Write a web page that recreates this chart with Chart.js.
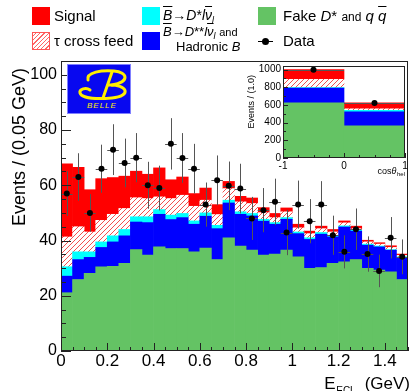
<!DOCTYPE html>
<html>
<head>
<meta charset="utf-8">
<title>E_ECL fit</title>
<script src="https://cdn.jsdelivr.net/npm/chart.js@4.4.1/dist/chart.umd.min.js"></script>
<style>
  html, body { margin: 0; padding: 0; background: #fff; }
  #page { position: relative; width: 412px; height: 391px; overflow: hidden; font-family: 'Liberation Sans', Arial, sans-serif; color: #000; }
  canvas { position: absolute; }
  #main { left: 0; top: 0; }
  #inset { left: 225px; top: 58px; }
  .box { position: absolute; width: 18px; height: 18px; }
  .hatch { box-sizing: border-box; border: 1px solid #f55; background: repeating-linear-gradient(-45deg, #fff 0 2px, #f66 2px 3px); }
  .lbl { position: absolute; white-space: nowrap; line-height: 18px; }
  .ob { text-decoration: overline; }
  .sub { font-size: 9px; vertical-align: -3px; }
  .logo { position: absolute; left: 67px; top: 64px; width: 62px; height: 48px; background: #0808f0; border: 1px solid #8080ff; overflow: hidden; }
</style>
</head>
<body>
<div id="page">
  <canvas id="main" width="412" height="391"></canvas>
  <canvas id="inset" width="187" height="122"></canvas>

  <div class="box" style="left:32px;top:7px;background:#ff0000"></div>
  <div class="lbl" style="left:54px;top:7px;font-size:15px">Signal</div>
  <div class="box" style="left:142px;top:7px;background:#00ffff"></div>
  <div class="lbl" style="left:163px;top:6px;font-size:14px"><i class="ob">B</i>→<i>D</i>*<i>l</i><i class="ob">ν</i><span class="sub"><i>l</i></span></div>
  <div class="box" style="left:258px;top:7px;background:#64c364"></div>
  <div class="lbl" style="left:283px;top:7px;font-size:15px">Fake <i>D</i>* <span style="font-size:12px">and</span> <i>q</i> <i class="ob">q</i></div>

  <div class="box hatch" style="left:32px;top:32px"></div>
  <div class="lbl" style="left:54px;top:32px;font-size:15px">τ cross feed</div>
  <div class="box" style="left:142px;top:32px;background:#0000ff"></div>
  <div class="lbl" style="left:163px;top:24px;font-size:13px;line-height:15px"><i class="ob">B</i>→<i>D</i>**<i>l</i><i class="ob">ν</i><span class="sub"><i>l</i></span> <span style="font-size:11px">and</span></div>
  <div class="lbl" style="left:176px;top:39px;font-size:13px;line-height:15px">Hadronic <i>B</i></div>
  <div style="position:absolute;left:258px;top:41px;width:15px;height:1px;background:#000"></div>
  <div style="position:absolute;left:262px;top:38px;width:7px;height:7px;border-radius:50%;background:#000"></div>
  <div class="lbl" style="left:283px;top:32px;font-size:15px">Data</div>

  <div class="logo">
    <svg width="62" height="48" style="position:absolute;left:0;top:0">
      <g fill="none" stroke="#ffee00" stroke-width="3" stroke-linecap="round">
        <path d="M20 15 C18 7, 34 5, 46 6 C60 7, 62 17, 44 20"/>
        <path d="M44 7 L35 33"/>
        <path d="M40 20 C60 19, 64 31, 44 33 C32 34, 14 34, 12 28 C11 24, 18 22, 22 25"/>
      </g>
    </svg>
    <div style="position:absolute;left:19px;top:36px;font:italic 8px 'Liberation Sans',sans-serif;color:#ffee00;letter-spacing:1px">BELLE</div>
  </div>
</div>

<script>
// main plot: E_ECL, 30 bins of 0.05 GeV
var binCenters = [0.025, 0.075, 0.125, 0.175, 0.225, 0.275, 0.325, 0.375, 0.425, 0.475,
  0.525, 0.575, 0.625, 0.675, 0.725, 0.775, 0.825, 0.875, 0.925, 0.975,
  1.025, 1.075, 1.125, 1.175, 1.225, 1.275, 1.325, 1.375, 1.425, 1.475]
var fakeDstar = [21.1, 25.9, 28.1, 30.5, 30.7, 31.7, 36.7, 34.7, 37.7, 37.1,
  37.1, 35.9, 37.3, 33.1, 41.0, 38.0, 36.5, 34.7, 35.1, 36.5,
  34.1, 29.9, 30.2, 31.7, 32.3, 33.1, 29.9, 29.3, 28.7, 25.9]
var hadronicB = [6.0, 7.2, 5.8, 7.0, 8.8, 10.0, 10.0, 11.8, 11.8, 10.5,
  11.2, 10.0, 11.5, 11.2, 12.6, 11.5, 12.4, 12.3, 10.8, 11.2,
  8.4, 10.5, 12.1, 9.6, 12.6, 10.3, 8.4, 8.4, 7.8, 8.0]
var dstarLnu = [3.4, 2.8, 2.0, 2.0, 2.2, 2.3, 1.9, 2.1, 1.7, 1.6,
  1.5, 1.2, 1.2, 1.2, 1.0, 0.9, 0.9, 0.7, 0.6, 0.6,
  0.6, 0.6, 0.6, 0.6, 0.4, 0.3, 0.4, 0.3, 0.2, 0.2]
var tauFeed = [10.8, 9.1, 7.2, 7.8, 7.8, 7.6, 6.9, 6.6, 4.6, 6.0,
  6.6, 5.3, 4.6, 3.9, 4.2, 3.6, 3.6, 2.4, 1.8, 2.1,
  1.5, 1.5, 1.4, 1.2, 1.1, 0.6, 0.8, 0.7, 0.8, 0.5]
var signal = [26.5, 21.5, 15.3, 15.1, 13.3, 11.7, 9.6, 8.8, 10.5, 6.8,
  6.6, 4.6, 4.4, 3.6, 2.6, 2.0, 2.0, 1.8, 1.5, 1.4,
  1.3, 0.9, 0.9, 0.9, 0.7, 0.9, 0.6, 0.5, 0.6, 0.5]
var dataCounts = [57.0, 63.0, 50.0, 66.0, 72.9, 68.1, 70.0, 60.0, 59.0, 75.0,
  69.9, 66.0, 53.0, 61.8, 59.8, 58.8, 48.0, 51.0, 54.0, 42.9,
  53.0, 47.0, 53.0, 41.9, 35.9, 44.1, 35.1, 29.0, 41.0, 34.1]
var dataErrors = [8.1, 8.6, 6.8, 8.7, 9.2, 8.8, 8.9, 8.5, 8.1, 9.3,
  9.0, 9.0, 8.0, 9.0, 8.8, 9.0, 7.8, 8.0, 8.4, 8.2,
  8.7, 8.0, 8.5, 7.1, 6.0, 7.5, 6.4, 5.9, 7.5, 6.3]
var xTicks = [0, 0.2, 0.4, 0.6, 0.8, 1, 1.2, 1.4]
var yTicks = [0, 20, 40, 60, 80, 100]

// inset: cos(theta_hel), 2 bins
var cosCenters = [-0.5, 0.5]
var cosFake = [625, 365]
var cosHadronic = [165, 158]
var cosDstar = [5, 16]
var cosTau = [95, 18]
var cosSignal = [110, 68]
var cosData = [998, 622]
var cosErrors = [32, 25]
var cosXTicks = [-1, 0, 1]
var cosYTicks = [0, 200, 400, 600, 800, 1000]

var FONT = '"Liberation Sans", Arial, sans-serif'
var GREEN = '#64c364'

function hatchPattern () {
  var c = document.createElement('canvas')
  c.width = 5
  c.height = 5
  var g = c.getContext('2d')
  g.fillStyle = '#fff'
  g.fillRect(0, 0, 5, 5)
  g.strokeStyle = '#f25050'
  g.lineWidth = 1
  g.beginPath()
  g.moveTo(-1, 6); g.lineTo(6, -1)
  g.moveTo(-1, 1); g.lineTo(1, -1)
  g.moveTo(4, 6); g.lineTo(6, 4)
  g.stroke()
  return g.createPattern(c, 'repeat')
}

function points (xs, ys) {
  return xs.map(function (x, i) { return { x: x, y: ys[i] } })
}

function barSet (label, centers, values, color) {
  return {
    label: label,
    data: points(centers, values),
    backgroundColor: color,
    borderWidth: 0,
    barPercentage: 1,
    categoryPercentage: 1,
    stack: 'mc'
  }
}

function dataSet (centers, values, radius) {
  return {
    type: 'line',
    label: 'Data',
    data: points(centers, values),
    yAxisID: 'yd',
    showLine: false,
    pointRadius: radius,
    pointBackgroundColor: '#000',
    pointBorderWidth: 0,
    order: -1
  }
}

// error bars drawn under the data markers
function errorBars (errors, halfWidth) {
  return {
    id: 'errorBars',
    beforeDatasetDraw: function (chart, args) {
      if (args.meta.type !== 'line') return
      var ctx = chart.ctx
      var xs = chart.scales.x
      var ys = chart.scales.yd
      ctx.save()
      ctx.strokeStyle = '#555'
      ctx.lineWidth = 1
      ctx.beginPath()
      args.meta._dataset.data.forEach(function (p, i) {
        var px = Math.round(xs.getPixelForValue(p.x)) + 0.5
        var py = Math.round(ys.getPixelForValue(p.y)) + 0.5
        ctx.moveTo(px, ys.getPixelForValue(p.y + errors[i]))
        ctx.lineTo(px, ys.getPixelForValue(p.y - errors[i]))
        ctx.moveTo(xs.getPixelForValue(p.x - halfWidth), py)
        ctx.lineTo(xs.getPixelForValue(p.x + halfWidth), py)
      })
      ctx.stroke()
      ctx.restore()
    }
  }
}

// ROOT-like frame with inward ticks, plus hand-placed axis titles
function frameTicks (o) {
  return {
    id: 'frameTicks',
    afterDatasetsDraw: function (chart) {
      var ctx = chart.ctx
      var a = chart.chartArea
      var xs = chart.scales.x
      var ys = chart.scales.y
      ctx.save()
      ctx.strokeStyle = '#222'
      ctx.lineWidth = 1
      ctx.strokeRect(a.left + 0.5, a.top + 0.5, a.right - a.left - 1, a.bottom - a.top - 1)
      ctx.beginPath()
      var n = Math.floor((xs.max - xs.min) / o.xMinor + 1e-6)
      for (var i = 0; i <= n; i++) {
        var px = Math.round(xs.getPixelForValue(xs.min + i * o.xMinor)) + 0.5
        ctx.moveTo(px, a.bottom)
        ctx.lineTo(px, a.bottom - (i % o.xEvery === 0 ? o.xLong : o.xShort))
      }
      var m = Math.floor((ys.max - ys.min) / o.yMinor + 1e-6)
      for (var j = 0; j <= m; j++) {
        var py = Math.round(ys.getPixelForValue(ys.min + j * o.yMinor)) + 0.5
        ctx.moveTo(a.left, py)
        ctx.lineTo(a.left + (j % o.yEvery === 0 ? o.yLong : o.yShort), py)
      }
      ctx.stroke()
      ctx.restore()
    },
    afterDraw: function (chart) {
      o.titles(chart.ctx)
    }
  }
}

function drawMainTitles (ctx) {
  ctx.save()
  ctx.fillStyle = '#000'
  ctx.font = '18px ' + FONT
  ctx.translate(20, 68)
  ctx.rotate(-Math.PI / 2)
  ctx.textAlign = 'right'
  ctx.textBaseline = 'middle'
  ctx.fillText('Events / (0.05 GeV)', 0, 0)
  ctx.restore()

  ctx.save()
  ctx.fillStyle = '#000'
  ctx.textAlign = 'left'
  ctx.textBaseline = 'alphabetic'
  ctx.font = '17px ' + FONT
  var gev = '(GeV)'
  var x3 = 410 - ctx.measureText(gev).width
  ctx.fillText(gev, x3, 389)
  ctx.font = '10px ' + FONT
  var x2 = x3 - 9 - ctx.measureText('ECL').width
  ctx.fillText('ECL', x2, 394)
  ctx.font = '17px ' + FONT
  ctx.fillText('E', x2 - ctx.measureText('E').width - 0.5, 389)
  ctx.restore()
}

function drawInsetTitles (ctx) {
  ctx.save()
  ctx.fillStyle = '#000'
  ctx.font = '9px ' + FONT
  ctx.translate(27, 17)
  ctx.rotate(-Math.PI / 2)
  ctx.textAlign = 'right'
  ctx.textBaseline = 'middle'
  ctx.fillText('Events / (1.0)', 0, 0)
  ctx.restore()

  ctx.save()
  ctx.fillStyle = '#000'
  ctx.textBaseline = 'alphabetic'
  ctx.font = '6px ' + FONT
  var x3 = 180 - ctx.measureText('hel').width
  ctx.fillText('hel', x3, 118)
  ctx.font = 'italic 9px ' + FONT
  var x2 = x3 - ctx.measureText('θ').width - 0.5
  ctx.fillText('θ', x2, 116)
  ctx.font = '9px ' + FONT
  ctx.fillText('cos', x2 - ctx.measureText('cos').width, 116)
  ctx.restore()
}

function fixedTicks (list) {
  return function (scale) {
    scale.ticks = list.map(function (v) { return { value: v } })
  }
}

function axes (xMin, xMax, xList, yMax, yList, yWidth, xHeight, yFont, xFont, xPad, yPad) {
  return {
    x: {
      type: 'linear', min: xMin, max: xMax, offset: false, stacked: true,
      grid: { display: false, drawTicks: false, offset: false },
      border: { display: false },
      afterBuildTicks: fixedTicks(xList),
      afterFit: function (s) { s.height = xHeight },
      ticks: { padding: xPad, color: '#000', maxRotation: 0, autoSkip: false, font: { family: FONT, size: xFont }, callback: function (v) { return String(v) } }
    },
    y: {
      min: 0, max: yMax, stacked: true,
      grid: { display: false, drawTicks: false },
      border: { display: false },
      afterBuildTicks: fixedTicks(yList),
      afterFit: function (s) { s.width = yWidth },
      ticks: { padding: yPad, color: '#000', font: { family: FONT, size: yFont }, callback: function (v) { return String(v) } }
    },
    yd: { display: false, min: 0, max: yMax }
  }
}

var hatch = hatchPattern()

new Chart(document.getElementById('main'), {
  type: 'bar',
  data: {
    datasets: [
      barSet('Fake D* and qq', binCenters, fakeDstar, GREEN),
      barSet('D** l nu and hadronic B', binCenters, hadronicB, '#0000ff'),
      barSet('D* l nu', binCenters, dstarLnu, '#00ffff'),
      barSet('tau cross feed', binCenters, tauFeed, hatch),
      barSet('Signal', binCenters, signal, '#ff0000'),
      dataSet(binCenters, dataCounts, 3)
    ]
  },
  options: {
    responsive: false,
    animation: false,
    layout: { padding: { top: 61, right: 1, left: 0, bottom: 0 } },
    plugins: { legend: { display: false }, tooltip: { enabled: false } },
    scales: axes(0, 1.5, xTicks, 105, yTicks, 61, 40, 16, 17, 0, 4)
  },
  plugins: [
    errorBars(dataErrors, 0.025),
    frameTicks({ xMinor: 0.05, xEvery: 4, xLong: 8, xShort: 4, yMinor: 5, yEvery: 4, yLong: 10, yShort: 5, titles: drawMainTitles })
  ]
})

new Chart(document.getElementById('inset'), {
  type: 'bar',
  data: {
    datasets: [
      barSet('Fake D* and qq', cosCenters, cosFake, GREEN),
      barSet('D** l nu and hadronic B', cosCenters, cosHadronic, '#0000ff'),
      barSet('D* l nu', cosCenters, cosDstar, '#00ffff'),
      barSet('tau cross feed', cosCenters, cosTau, hatch),
      barSet('Signal', cosCenters, cosSignal, '#ff0000'),
      dataSet(cosCenters, cosData, 3)
    ]
  },
  options: {
    responsive: false,
    animation: false,
    layout: { padding: { top: 8, right: 7, left: 0, bottom: 0 } },
    plugins: { legend: { display: false }, tooltip: { enabled: false } },
    scales: axes(-1, 1, cosXTicks, 1040, cosYTicks, 58, 22, 10, 10, 2, 2)
  },
  plugins: [
    errorBars(cosErrors, 0.5),
    frameTicks({ xMinor: 0.25, xEvery: 4, xLong: 5, xShort: 3, yMinor: 100, yEvery: 2, yLong: 5, yShort: 3, titles: drawInsetTitles })
  ]
})
</script>
</body>
</html>
